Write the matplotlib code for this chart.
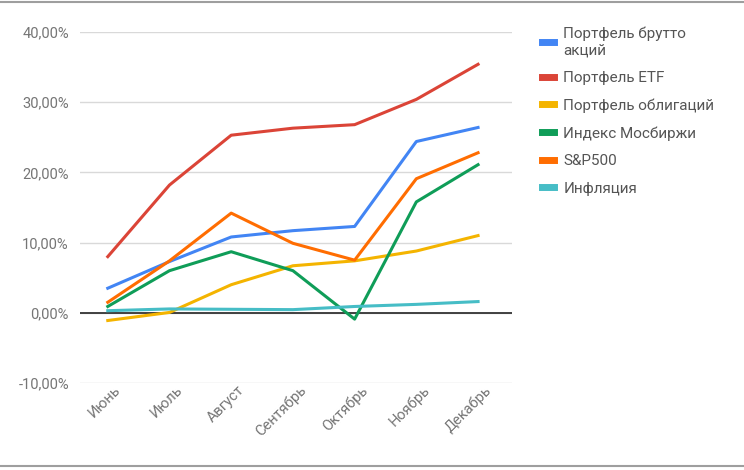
import matplotlib.pyplot as plt
import matplotlib.transforms as mtransforms
from matplotlib.lines import Line2D
from matplotlib.ticker import FuncFormatter

months = ["Июнь", "Июль", "Август", "Сентябрь", "Октябрь", "Ноябрь", "Декабрь"]

brutto = [3.5, 7.3, 10.8, 11.7, 12.3, 24.4, 26.4]
etf = [8.0, 18.2, 25.3, 26.3, 26.8, 30.4, 35.4]
bonds = [-1.1, 0.05, 4.0, 6.7, 7.4, 8.8, 11.0]
moex = [0.9, 6.0, 8.7, 6.0, -0.9, 15.8, 21.1]
sp500 = [1.5, 7.4, 14.2, 9.9, 7.5, 19.1, 22.8]
inflation = [0.3, 0.55, 0.5, 0.45, 0.9, 1.2, 1.6]

names = ["Портфель брутто\nакций", "Портфель ETF", "Портфель облигаций",
         "Индекс Мосбиржи", "S&P500", "Инфляция"]
series = [brutto, etf, bonds, moex, sp500, inflation]
colors = ["#4285F4", "#DB4437", "#F4B400", "#0F9D58", "#FF6D01", "#46BDC6"]

plt.rcParams['font.family'] = ['Roboto', 'DejaVu Sans']

fig = plt.figure(figsize=(7.44, 4.70), dpi=100)
ax = fig.add_axes([80 / 744, 87 / 470, 432 / 744, 351 / 470])

x = list(range(len(months)))
for vals, c, n in zip(series, colors, names):
    ax.plot(x, vals, color=c, lw=2.2, label=n, zorder=3)

ax.set_ylim(-10, 40)
ax.set_xlim(-0.45, 6.55)
ax.set_yticks([-10, 0, 10, 20, 30, 40])
ax.yaxis.set_major_formatter(FuncFormatter(lambda v, p: f"{v:.2f}%".replace(".", ",")))
ax.grid(axis='y', color='#d9d9d9', lw=1, zorder=0)
ax.axhline(0, color='#333333', lw=1.3, zorder=2)
for s in ax.spines.values():
    s.set_visible(False)
ax.tick_params(axis='y', length=0, pad=8, labelsize=10.5, labelcolor='#757575')
ax.tick_params(axis='x', length=0, pad=2, labelsize=10.5, labelcolor='#757575')
ax.set_xticks(x)
ax.set_xticklabels(months, rotation=45, ha='right', rotation_mode='anchor')
shift = mtransforms.ScaledTranslation(6 / 100, 3 / 100, fig.dpi_scale_trans)
for lbl in ax.get_xticklabels():
    lbl.set_transform(lbl.get_transform() + shift)

handles = [Line2D([0], [0], color=c, lw=5) for c in colors]
fig.legend(handles, names, loc='upper left', bbox_to_anchor=(528 / 744, 1 - 13 / 470),
           frameon=False, fontsize=11, labelcolor='#555555', handlelength=0.8,
           handletextpad=0.6, labelspacing=0.88)

# spreadsheet cell borders
fig.add_artist(Line2D([0, 1], [1 - 1.5 / 470] * 2, color='#9e9e9e', lw=1.5))
fig.add_artist(Line2D([0, 1], [1 - 466 / 470] * 2, color='#9e9e9e', lw=1.5))

fig.savefig("out.png", dpi=100)
